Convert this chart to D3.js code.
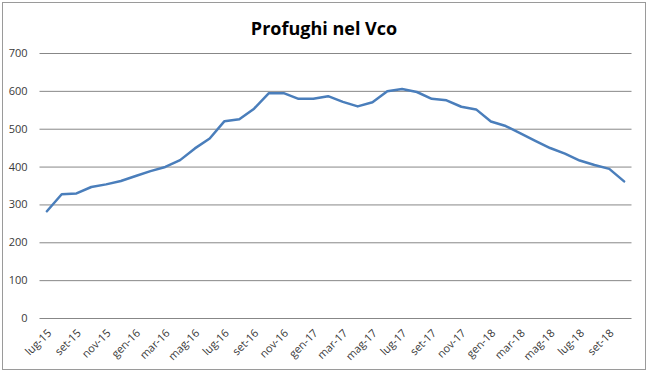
<!DOCTYPE html>
<html>
<head>
<meta charset="utf-8">
<script src="https://cdn.jsdelivr.net/npm/d3@7"></script>
<style>
  body { margin: 0; background: #fff; }
  svg { display: block; }
  .axis text { font-family: "Open Sans", sans-serif; font-size: 11px; fill: #3a3a3a; }
</style>
</head>
<body>
<div id="chart"></div>
<script>
// months shown on the chart (one point per month)
const months = [
    "lug-15", "ago-15", "set-15", "ott-15", "nov-15", "dic-15",
    "gen-16", "feb-16", "mar-16", "apr-16", "mag-16", "giu-16",
    "lug-16", "ago-16", "set-16", "ott-16", "nov-16", "dic-16",
    "gen-17", "feb-17", "mar-17", "apr-17", "mag-17", "giu-17",
    "lug-17", "ago-17", "set-17", "ott-17", "nov-17", "dic-17",
    "gen-18", "feb-18", "mar-18", "apr-18", "mag-18", "giu-18",
    "lug-18", "ago-18", "set-18", "ott-18"
];
// number of refugees per month
const profughi = [
    282, 327, 329, 346, 353, 362, 375, 388, 399, 417, 448, 474,
    520, 525, 553, 594, 594, 579, 579, 586, 571, 559, 570, 599,
    605, 597, 579, 575, 558, 551, 519, 507, 488, 468, 449, 434,
    416, 404, 394, 361
];
// labelled months on the x axis
const xTickLabels = [
    "lug-15", "set-15", "nov-15", "gen-16", "mar-16", "mag-16", "lug-16",
    "set-16", "nov-16", "gen-17", "mar-17", "mag-17", "lug-17", "set-17",
    "nov-17", "gen-18", "mar-18", "mag-18", "lug-18", "set-18"
];
const yTicks = [0, 100, 200, 300, 400, 500, 600, 700];

const width = 650;
const height = 373;
const margin = { top: 53, right: 18.5, bottom: 55, left: 39.5 };

const data = months.map((m, i) => ({ month: m, value: profughi[i] }));

const svg = d3.select("#chart")
    .append("svg")
    .attr("width", width)
    .attr("height", height);

// outer border of the chart
svg.append("rect")
    .attr("x", 2.5)
    .attr("y", 2.5)
    .attr("width", 643)
    .attr("height", 367)
    .attr("fill", "#fff")
    .attr("stroke", "#9a9a9a");

// title
svg.append("text")
    .attr("x", 324)
    .attr("y", 35)
    .attr("text-anchor", "middle")
    .attr("font-family", "'Open Sans', sans-serif")
    .attr("font-weight", "bold")
    .attr("font-size", "18px")
    .attr("fill", "#000")
    .text("Profughi nel Vco");

const xScale = d3.scalePoint()
    .domain(months)
    .range([margin.left, width - margin.right])
    .padding(0.5);

const yScale = d3.scaleLinear()
    .domain([0, 700])
    .range([height - margin.bottom, margin.top]);

// y axis with gridlines
const yAxis = svg.append("g")
    .attr("class", "axis")
    .attr("transform", `translate(${margin.left},0)`)
    .call(d3.axisLeft(yScale)
        .tickValues(yTicks)
        .tickSize(-(width - margin.left - margin.right))
        .tickPadding(12));
yAxis.select(".domain").remove();
yAxis.selectAll("line").attr("stroke", "#878787");

// x axis labels, rotated
const xAxis = svg.append("g")
    .attr("class", "axis")
    .attr("transform", `translate(0,${height - margin.bottom})`)
    .call(d3.axisBottom(xScale).tickValues(xTickLabels).tickSize(0));
xAxis.select(".domain").remove();
xAxis.selectAll("text")
    .attr("text-anchor", "end")
    .attr("y", 0)
    .attr("dy", "0.35em")
    .attr("transform", "translate(2,13) rotate(-45)");

// the line
const line = d3.line()
    .x(d => xScale(d.month))
    .y(d => yScale(d.value));

svg.append("path")
    .datum(data)
    .attr("fill", "none")
    .attr("stroke", "#4a7ebb")
    .attr("stroke-width", 2.5)
    .attr("stroke-linejoin", "round")
    .attr("stroke-linecap", "round")
    .attr("d", line);
</script>
</body>
</html>
